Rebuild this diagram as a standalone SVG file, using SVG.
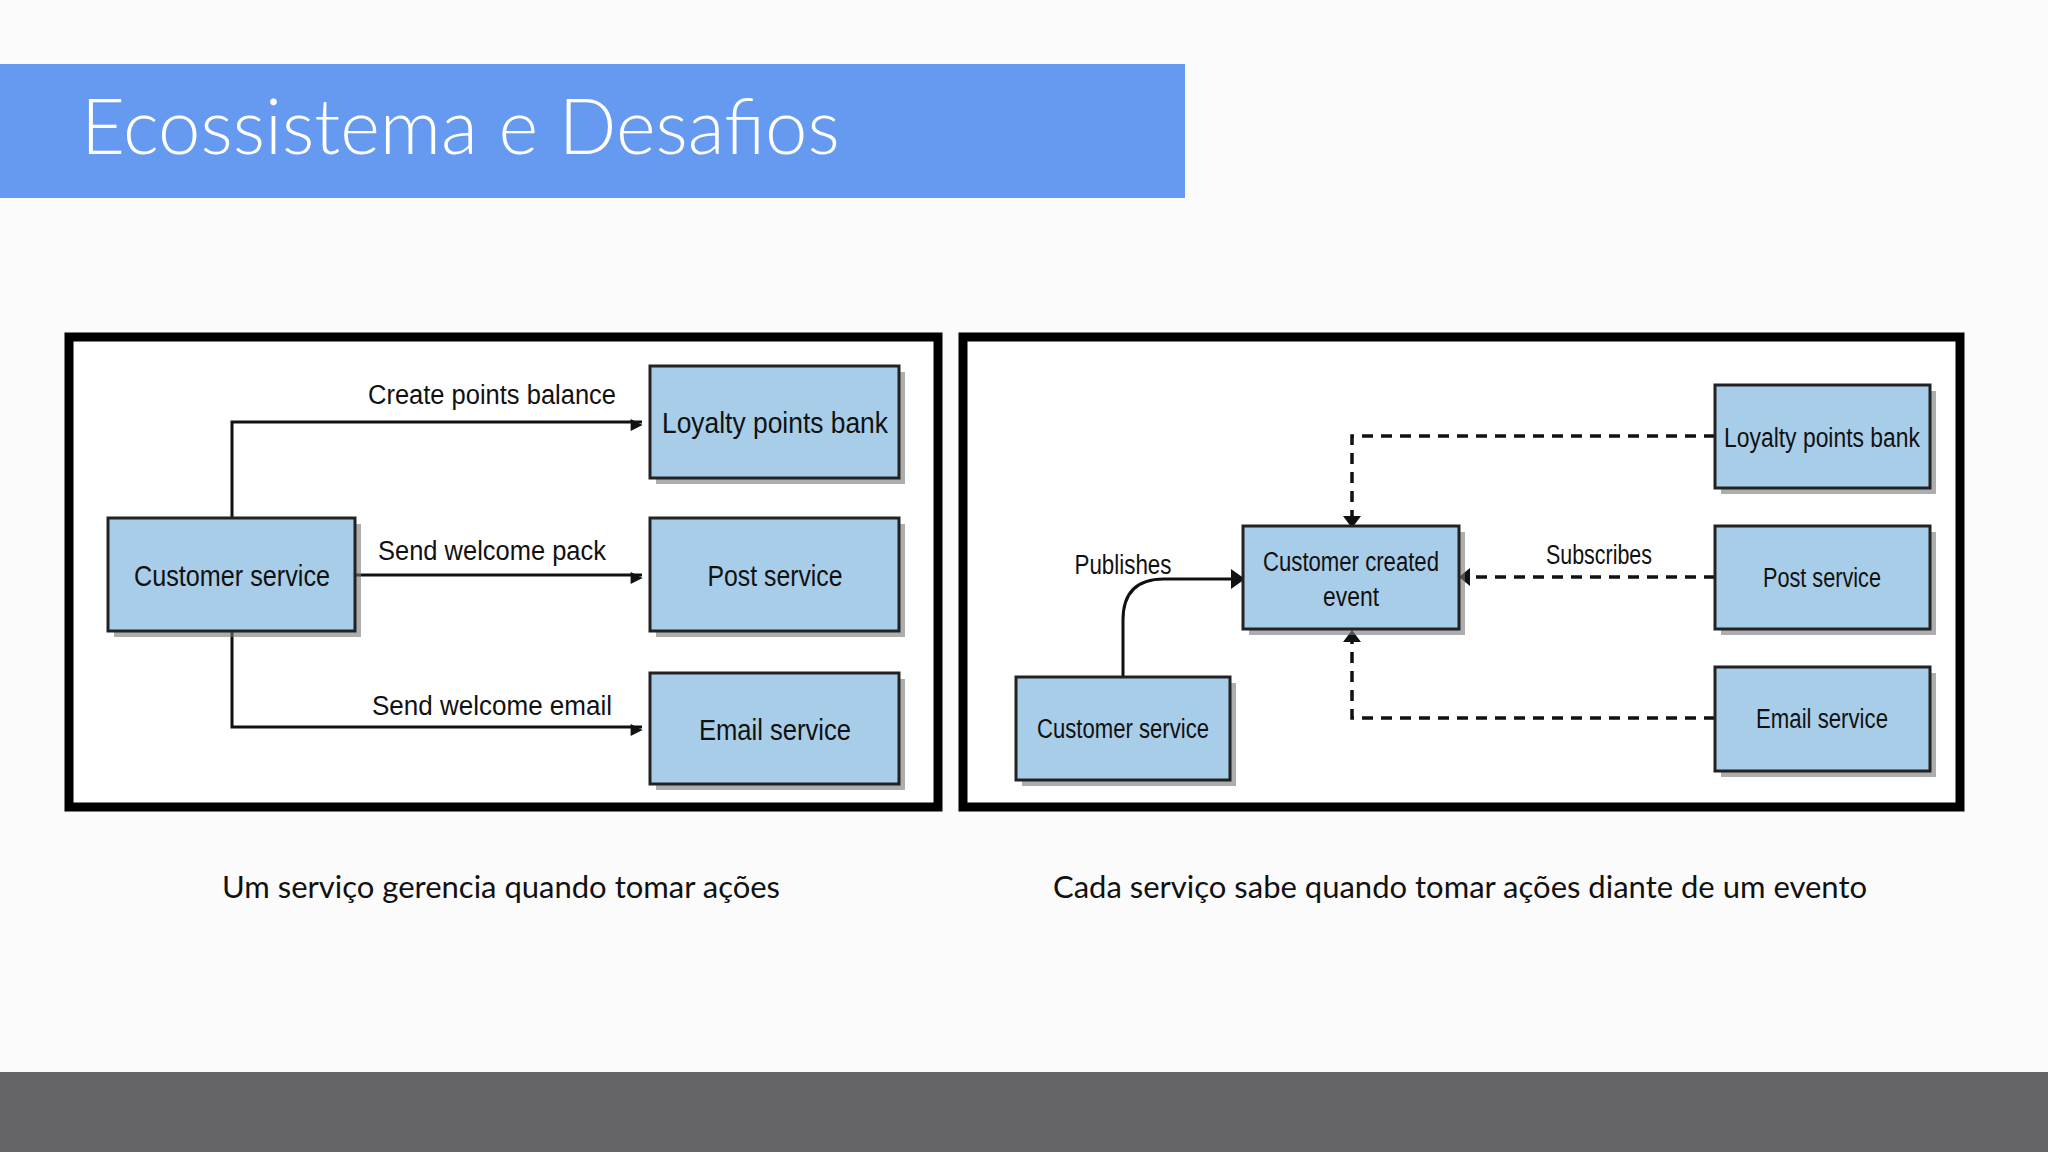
<svg xmlns="http://www.w3.org/2000/svg" width="2048" height="1152" viewBox="0 0 2048 1152">
<style>
.n{fill:#a8cde8;stroke:#222;stroke-width:3}
.sh{fill:#777;opacity:.6}
.t{font-family:"Liberation Sans",Arial,sans-serif;font-size:30px;fill:#111;text-anchor:middle;lengthAdjust:spacingAndGlyphs}
.t2{font-family:"Liberation Sans",Arial,sans-serif;font-size:27px;fill:#111;text-anchor:middle}
.c{fill:none;stroke:#111;stroke-width:3}
.d{fill:none;stroke:#111;stroke-width:3.5;stroke-dasharray:11 8}
.cap{font-family:Lato,"Open Sans",sans-serif;font-size:31px;fill:#111;text-anchor:middle}
</style>
<defs>
<marker id="a" viewBox="0 0 10 10" refX="9" refY="5" markerWidth="6" markerHeight="6" orient="auto" markerUnits="userSpaceOnUse" style="overflow:visible"><path d="M0,0L10,5L0,10z" fill="#111" transform="scale(2)translate(-5,0)"/></marker>
</defs>
<rect width="2048" height="1152" fill="#fbfbfb"/>
<rect x="0" y="64" width="1185" height="134" fill="#6699f0"/>
<text x="81" y="154" font-family="Lato,'Open Sans',sans-serif" font-weight="300" font-size="76" fill="#fff">Ecossistema e Desafios</text>
<rect x="0" y="1072" width="2048" height="80" fill="#646368"/>
<rect x="69" y="337" width="869" height="470" fill="#fff" stroke="#000" stroke-width="9"/>
<rect x="963" y="337" width="997" height="470" fill="#fff" stroke="#000" stroke-width="9"/>
<g id="connectors">
<path class="c" d="M232,518V422H642" marker-end="url(#a)"/>
<path class="c" d="M355,575H642" marker-end="url(#a)"/>
<path class="c" d="M232,631V727H642" marker-end="url(#a)"/>
<path class="d" d="M1715,436H1352V518"/>
<path class="d" d="M1715,577H1468"/>
<path class="d" d="M1715,718H1352V640"/>
<path d="M1343,516L1361,516L1352,528z M1470,568L1470,586L1459,577z M1343,642L1361,642L1352,630z" fill="#111"/>
<path class="c" d="M1123,677V620Q1123,579 1164,579H1235"/>
<path d="M1231,569L1245,579L1231,589z" fill="#111"/>
<text class="t2" x="492" y="404" textLength="248" lengthAdjust="spacingAndGlyphs">Create points balance</text>
<text class="t2" x="492" y="560" textLength="228" lengthAdjust="spacingAndGlyphs">Send welcome pack</text>
<text class="t2" x="492" y="715" textLength="240" lengthAdjust="spacingAndGlyphs">Send welcome email</text>
<text class="t2" x="1123" y="574" textLength="97" lengthAdjust="spacingAndGlyphs">Publishes</text>
<text class="t2" x="1599" y="564" textLength="106" lengthAdjust="spacingAndGlyphs">Subscribes</text>
</g>
<g id="l-cs"><rect class="sh" x="114" y="524" width="247" height="113"/><rect class="n" x="108" y="518" width="247" height="113"/><text class="t" x="232" y="586" textLength="196" lengthAdjust="spacingAndGlyphs">Customer service</text></g>
<g id="l-lp"><rect class="sh" x="656" y="372" width="249" height="112"/><rect class="n" x="650" y="366" width="249" height="112"/><text class="t" x="775" y="433" textLength="226" lengthAdjust="spacingAndGlyphs">Loyalty points bank</text></g>
<g id="l-ps"><rect class="sh" x="656" y="524" width="249" height="113"/><rect class="n" x="650" y="518" width="249" height="113"/><text class="t" x="775" y="586" textLength="135" lengthAdjust="spacingAndGlyphs">Post service</text></g>
<g id="l-es"><rect class="sh" x="656" y="679" width="249" height="111"/><rect class="n" x="650" y="673" width="249" height="111"/><text class="t" x="775" y="740" textLength="152" lengthAdjust="spacingAndGlyphs">Email service</text></g>
<g id="r-lp"><rect class="sh" x="1721" y="391" width="215" height="103"/><rect class="n" x="1715" y="385" width="215" height="103"/><text class="t2" x="1822" y="447" textLength="196" lengthAdjust="spacingAndGlyphs">Loyalty points bank</text></g>
<g id="r-ps"><rect class="sh" x="1721" y="532" width="215" height="103"/><rect class="n" x="1715" y="526" width="215" height="103"/><text class="t2" x="1822" y="587" textLength="118" lengthAdjust="spacingAndGlyphs">Post service</text></g>
<g id="r-es"><rect class="sh" x="1721" y="673" width="215" height="104"/><rect class="n" x="1715" y="667" width="215" height="104"/><text class="t2" x="1822" y="728" textLength="132" lengthAdjust="spacingAndGlyphs">Email service</text></g>
<g id="r-ev"><rect class="sh" x="1249" y="532" width="216" height="103"/><rect class="n" x="1243" y="526" width="216" height="103"/><text class="t2" x="1351" y="571" textLength="176" lengthAdjust="spacingAndGlyphs">Customer created</text><text class="t2" x="1351" y="606" textLength="56" lengthAdjust="spacingAndGlyphs">event</text></g>
<g id="r-cs"><rect class="sh" x="1022" y="683" width="214" height="103"/><rect class="n" x="1016" y="677" width="214" height="103"/><text class="t2" x="1123" y="738" textLength="172" lengthAdjust="spacingAndGlyphs">Customer service</text></g>
<text class="cap" x="501" y="898">Um serviço gerencia quando tomar ações</text>
<text class="cap" x="1460" y="898">Cada serviço sabe quando tomar ações diante de um evento</text>
</svg>
